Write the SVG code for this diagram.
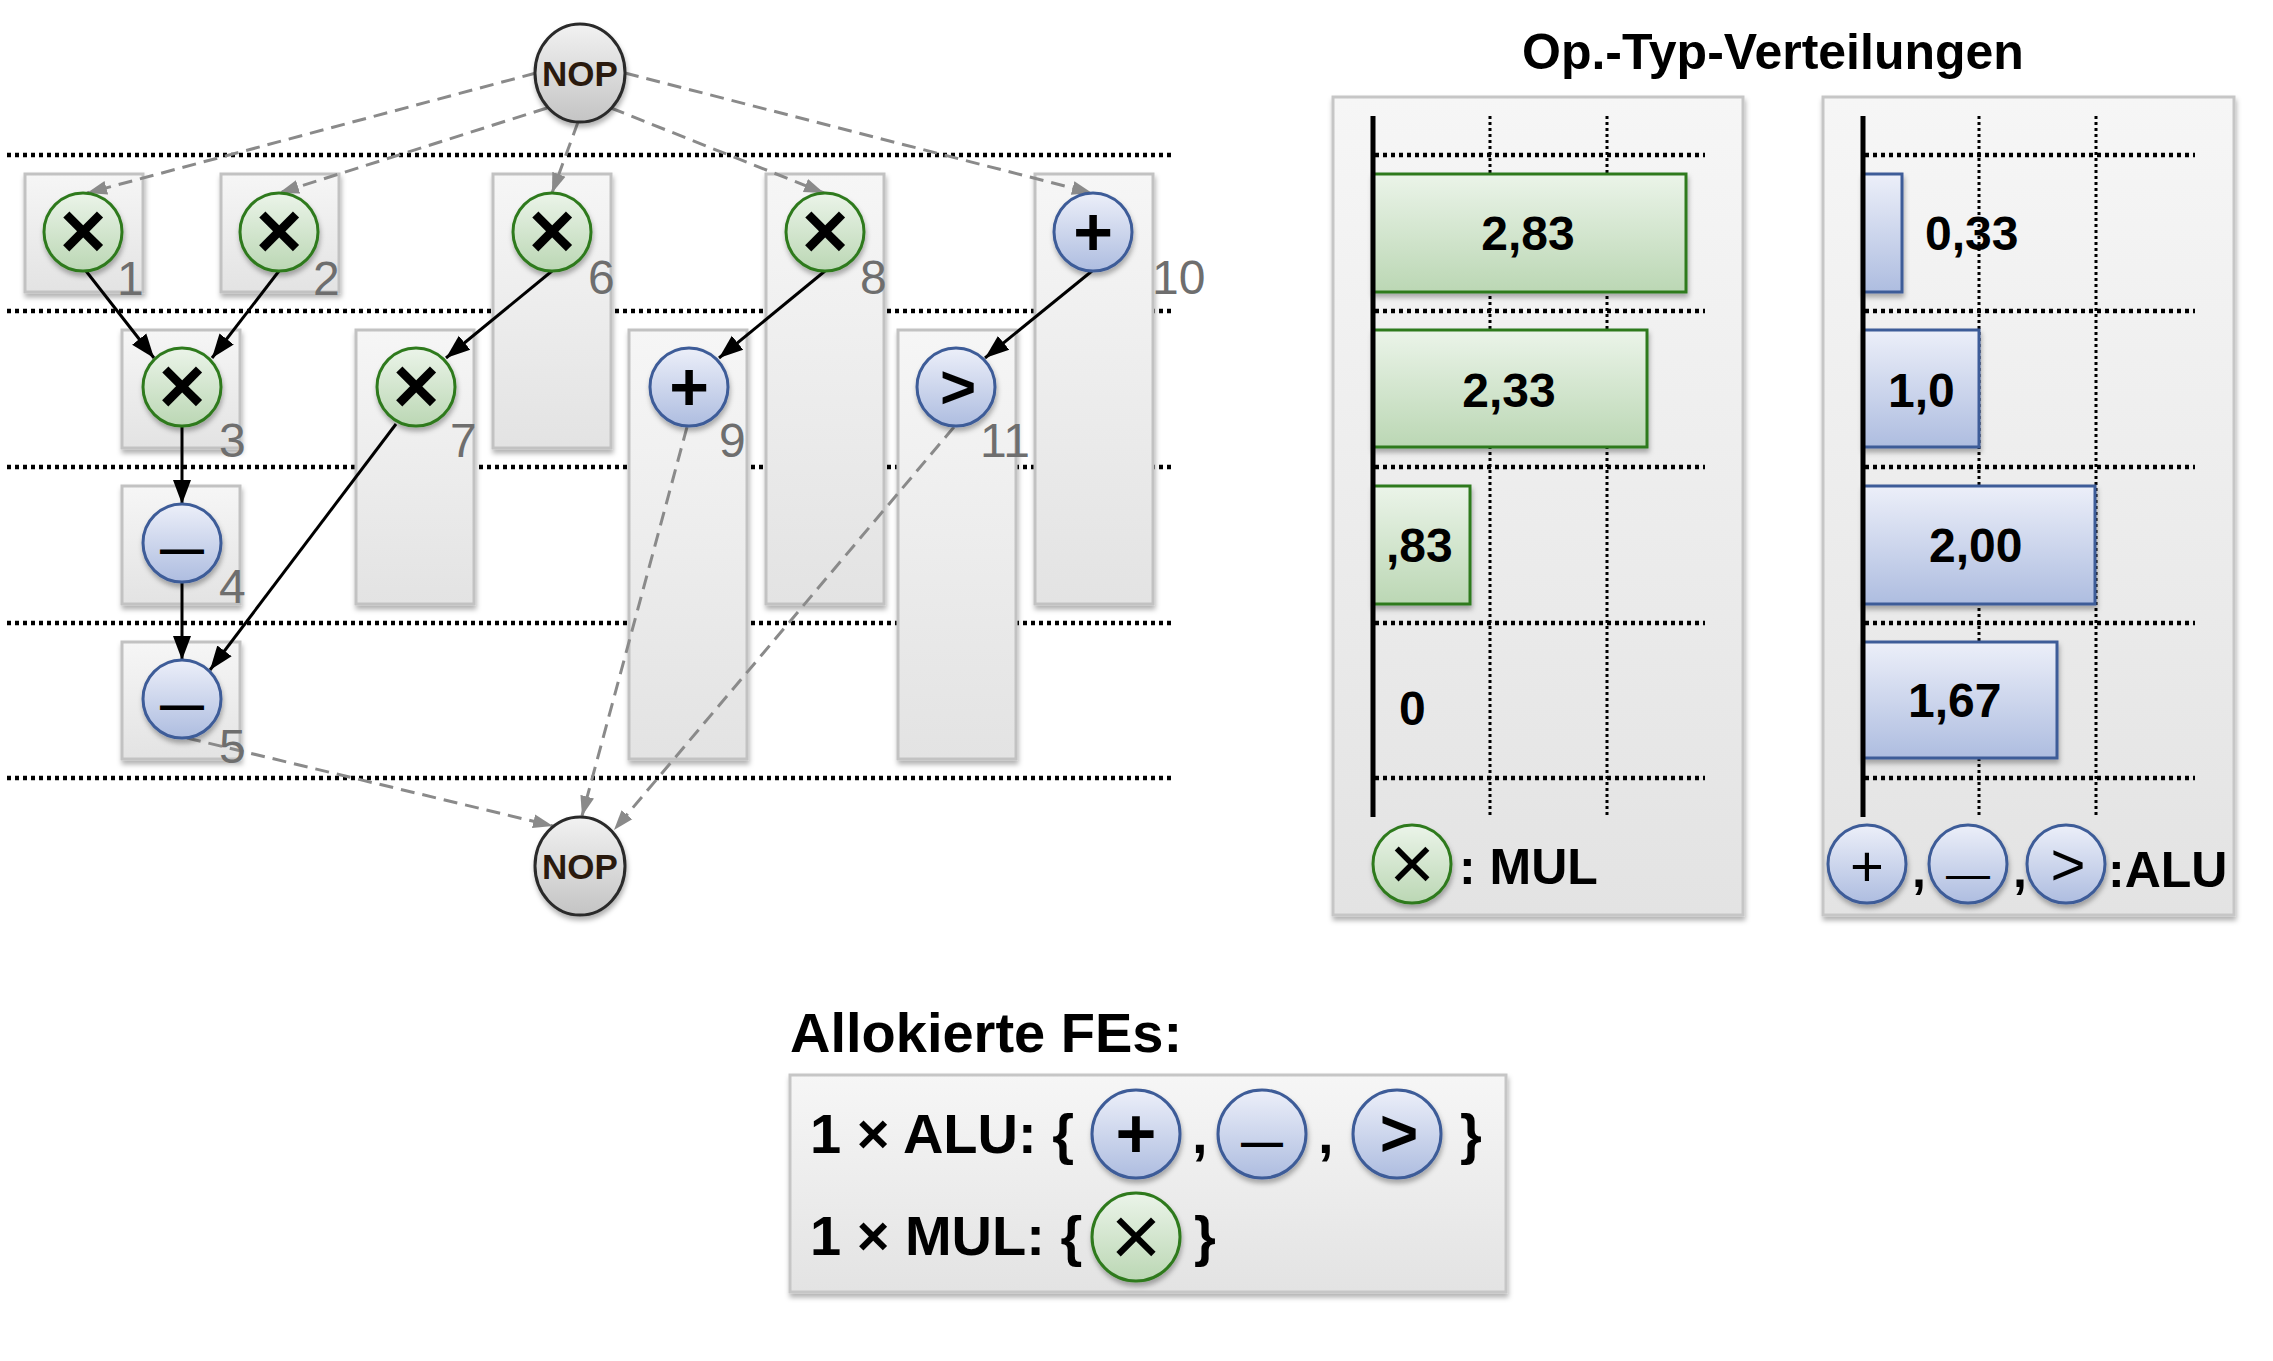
<svg xmlns="http://www.w3.org/2000/svg" width="2273" height="1361" viewBox="0 0 2273 1361">
<defs>
  <linearGradient id="gCol" x1="0" y1="0" x2="0" y2="1"><stop offset="0" stop-color="#f6f6f6"/><stop offset="1" stop-color="#e3e3e3"/></linearGradient>
  <linearGradient id="gGreen" x1="0" y1="0" x2="0" y2="1"><stop offset="0" stop-color="#ebf4e9"/><stop offset="1" stop-color="#bbd7b4"/></linearGradient>
  <linearGradient id="gBlue" x1="0" y1="0" x2="0" y2="1"><stop offset="0" stop-color="#eceff9"/><stop offset="1" stop-color="#aebde0"/></linearGradient>
  <linearGradient id="gNop" x1="0" y1="0" x2="0" y2="1"><stop offset="0" stop-color="#f2f2f2"/><stop offset="1" stop-color="#c4c4c4"/></linearGradient>
  <filter id="sh" x="-20%" y="-20%" width="140%" height="140%"><feDropShadow dx="1" dy="4" stdDeviation="2.5" flood-color="#000" flood-opacity="0.3"/></filter>
  <marker id="ah" markerUnits="userSpaceOnUse" markerWidth="26" markerHeight="20" refX="24" refY="10" orient="auto"><path d="M0,1 L24,10 L0,19 z" fill="#000"/></marker>
  <marker id="ahg" markerUnits="userSpaceOnUse" markerWidth="22" markerHeight="16" refX="20" refY="8" orient="auto"><path d="M0,1 L20,8 L0,15 z" fill="#8a8a8a"/></marker>
</defs>
<style>
  .dot { stroke:#000; stroke-width:4.5; stroke-dasharray:4 4; fill:none; }
  .vdot { stroke:#000; stroke-width:3; stroke-dasharray:3 3; fill:none; }
  .col { fill:url(#gCol); stroke:#c2c2c2; stroke-width:3; filter:url(#sh); }
  .panel { fill:url(#gCol); stroke:#c6c6c6; stroke-width:3; filter:url(#sh); }
  .mul { fill:url(#gGreen); stroke:#2f7a1f; stroke-width:3; filter:url(#sh); }
  .alu { fill:url(#gBlue); stroke:#3d5b98; stroke-width:3; filter:url(#sh); }
  .nop { fill:url(#gNop); stroke:#2b2b2b; stroke-width:3; filter:url(#sh); }
  .bar-mul { fill:url(#gGreen); stroke:#2f7a1f; stroke-width:3; filter:url(#sh); }
  .bar-alu { fill:url(#gBlue); stroke:#3d5b98; stroke-width:3; filter:url(#sh); }
  .axis { stroke:#000; stroke-width:5; }
  .solid { stroke:#000; stroke-width:3; fill:none; marker-end:url(#ah); }
  .dash { stroke:#8a8a8a; stroke-width:3; stroke-dasharray:14 8; fill:none; marker-end:url(#ahg); }
  text { font-family:"Liberation Sans", Arial, sans-serif; }
  .sym { font-weight:bold; text-anchor:middle; fill:#000; }
  .symr { font-weight:normal; text-anchor:middle; fill:#000; }
  .num { font-size:48px; fill:#6e6e6e; }
  .nopt { font-size:35px; font-weight:bold; fill:#2a1a0e; text-anchor:middle; }
  .val { font-size:48px; font-weight:bold; fill:#000; }
  .big { font-size:50px; font-weight:bold; fill:#000; }
  .alloc { font-size:56px; font-weight:bold; fill:#000; }
</style>
<rect width="2273" height="1361" fill="#fff"/>

<g id="steps">
  <line class="dot" x1="7" y1="155" x2="1171" y2="155"/>
  <line class="dot" x1="7" y1="311" x2="1171" y2="311"/>
  <line class="dot" x1="7" y1="467" x2="1171" y2="467"/>
  <line class="dot" x1="7" y1="623" x2="1171" y2="623"/>
  <line class="dot" x1="7" y1="778" x2="1171" y2="778"/>
</g>

<g id="mobility-ranges">
  <rect class="col" x="25" y="174" width="118" height="118"/>
  <rect class="col" x="221" y="174" width="118" height="118"/>
  <rect class="col" x="493" y="174" width="118" height="274"/>
  <rect class="col" x="766" y="174" width="118" height="430"/>
  <rect class="col" x="1035" y="174" width="118" height="430"/>
  <rect class="col" x="122" y="330" width="118" height="118"/>
  <rect class="col" x="356" y="330" width="118" height="274"/>
  <rect class="col" x="629" y="330" width="118" height="429"/>
  <rect class="col" x="898" y="330" width="118" height="429"/>
  <rect class="col" x="122" y="486" width="118" height="118"/>
  <rect class="col" x="122" y="642" width="118" height="117"/>
</g>

<g id="connectors">
  <line class="dash" x1="536" y1="73" x2="87" y2="193"/>
  <line class="dash" x1="547" y1="108" x2="279" y2="193"/>
  <line class="dash" x1="578" y1="122" x2="552" y2="193"/>
  <line class="dash" x1="611" y1="108" x2="824" y2="193"/>
  <line class="dash" x1="625" y1="73" x2="1092" y2="193"/>
  <line class="dash" x1="187" y1="738" x2="553" y2="826"/>
  <line class="dash" x1="687" y1="427" x2="582" y2="816"/>
  <line class="dash" x1="954" y1="427" x2="614" y2="830"/>
  <line class="solid" x1="86" y1="271" x2="154" y2="358"/>
  <line class="solid" x1="279" y1="271" x2="212" y2="358"/>
  <line class="solid" x1="552" y1="271" x2="446" y2="358"/>
  <line class="solid" x1="182" y1="426" x2="182" y2="504"/>
  <line class="solid" x1="182" y1="582" x2="182" y2="660"/>
  <line class="solid" x1="396" y1="424" x2="210" y2="670"/>
  <line class="solid" x1="825" y1="271" x2="719" y2="358"/>
  <line class="solid" x1="1092" y1="271" x2="985" y2="358"/>
</g>

<g id="nop-start"><ellipse class="nop" cx="580" cy="73" rx="45" ry="49"/><text class="nopt" x="580" y="86">NOP</text></g>
<g id="nop-end"><ellipse class="nop" cx="580" cy="866" rx="45" ry="49"/><text class="nopt" x="580" y="879">NOP</text></g>

<g id="node-1"><circle class="mul" cx="83" cy="232" r="39"/><text class="sym" x="83" y="258" font-size="80">×</text><text class="num" x="117" y="295">1</text></g>
<g id="node-2"><circle class="mul" cx="279" cy="232" r="39"/><text class="sym" x="279" y="258" font-size="80">×</text><text class="num" x="313" y="295">2</text></g>
<g id="node-6"><circle class="mul" cx="552" cy="232" r="39"/><text class="sym" x="552" y="258" font-size="80">×</text><text class="num" x="588" y="294">6</text></g>
<g id="node-8"><circle class="mul" cx="825" cy="232" r="39"/><text class="sym" x="825" y="258" font-size="80">×</text><text class="num" x="860" y="294">8</text></g>
<g id="node-10"><circle class="alu" cx="1093" cy="232" r="39"/><text class="sym" x="1093" y="255" font-size="68">+</text><text class="num" x="1152" y="294">10</text></g>
<g id="node-3"><circle class="mul" cx="182" cy="387" r="39"/><text class="sym" x="182" y="413" font-size="80">×</text><text class="num" x="219" y="457">3</text></g>
<g id="node-7"><circle class="mul" cx="416" cy="387" r="39"/><text class="sym" x="416" y="413" font-size="80">×</text><text class="num" x="450" y="457">7</text></g>
<g id="node-9"><circle class="alu" cx="689" cy="387" r="39"/><text class="sym" x="689" y="410" font-size="68">+</text><text class="num" x="719" y="457">9</text></g>
<g id="node-11"><circle class="alu" cx="956" cy="387" r="39"/><text class="sym" x="958" y="408" font-size="62">&gt;</text><text class="num" x="980" y="457">11</text></g>
<g id="node-4"><circle class="alu" cx="182" cy="543" r="39"/><text class="sym" x="182" y="564" font-size="44">—</text><text class="num" x="219" y="603">4</text></g>
<g id="node-5"><circle class="alu" cx="182" cy="699" r="39"/><text class="sym" x="182" y="720" font-size="44">—</text><text class="num" x="219" y="763">5</text></g>

<g id="chart-title"><text class="big" x="1522" y="69">Op.-Typ-Verteilungen</text></g>

<g id="chart-mul">
  <rect class="panel" x="1333" y="97" width="410" height="818"/>
  <line class="vdot" x1="1490" y1="116" x2="1490" y2="817"/>
  <line class="vdot" x1="1607" y1="116" x2="1607" y2="817"/>
  <line class="dot" x1="1375" y1="155" x2="1705" y2="155"/>
  <line class="dot" x1="1375" y1="311" x2="1705" y2="311"/>
  <line class="dot" x1="1375" y1="467" x2="1705" y2="467"/>
  <line class="dot" x1="1375" y1="623" x2="1705" y2="623"/>
  <line class="dot" x1="1375" y1="778" x2="1705" y2="778"/>
  <rect class="bar-mul" x="1373" y="174" width="313" height="118"/>
  <rect class="bar-mul" x="1373" y="330" width="274" height="117"/>
  <rect class="bar-mul" x="1373" y="486" width="97" height="118"/>
  <line class="axis" x1="1373" y1="116" x2="1373" y2="817"/>
  <text class="val" x="1528" y="250" text-anchor="middle">2,83</text>
  <text class="val" x="1509" y="407" text-anchor="middle">2,33</text>
  <text class="val" x="1386" y="562">,83</text>
  <text class="val" x="1399" y="725">0</text>
  <circle class="mul" cx="1412" cy="864" r="39"/>
  <text class="symr" x="1412" y="890" font-size="78">×</text>
  <text class="big" x="1459" y="884">: MUL</text>
</g>

<g id="chart-alu">
  <rect class="panel" x="1823" y="97" width="411" height="818"/>
  <line class="vdot" x1="1979" y1="116" x2="1979" y2="817"/>
  <line class="vdot" x1="2096" y1="116" x2="2096" y2="817"/>
  <line class="dot" x1="1865" y1="155" x2="2195" y2="155"/>
  <line class="dot" x1="1865" y1="311" x2="2195" y2="311"/>
  <line class="dot" x1="1865" y1="467" x2="2195" y2="467"/>
  <line class="dot" x1="1865" y1="623" x2="2195" y2="623"/>
  <line class="dot" x1="1865" y1="778" x2="2195" y2="778"/>
  <rect class="bar-alu" x="1863" y="174" width="39" height="118"/>
  <rect class="bar-alu" x="1863" y="330" width="116" height="117"/>
  <rect class="bar-alu" x="1863" y="486" width="232" height="118"/>
  <rect class="bar-alu" x="1863" y="642" width="194" height="116"/>
  <line class="axis" x1="1863" y1="116" x2="1863" y2="817"/>
  <text class="val" x="1925" y="250">0,33</text>
  <text class="val" x="1888" y="407">1,0</text>
  <text class="val" x="1929" y="562">2,00</text>
  <text class="val" x="1908" y="717">1,67</text>
  <circle class="alu" cx="1867" cy="864" r="39"/>
  <text class="symr" x="1867" y="886" font-size="58">+</text>
  <text class="big" x="1912" y="887">,</text>
  <circle class="alu" cx="1968" cy="864" r="39"/>
  <text class="symr" x="1968" y="889" font-size="44">—</text>
  <text class="big" x="2013" y="887">,</text>
  <circle class="alu" cx="2066" cy="864" r="39"/>
  <text class="symr" x="2068" y="885" font-size="60">&gt;</text>
  <text class="big" x="2108" y="887">:ALU</text>
</g>

<g id="allocation">
  <text class="alloc" x="790" y="1052">Allokierte FEs:</text>
  <rect class="panel" x="790" y="1075" width="716" height="217"/>
  <text class="alloc" x="810" y="1153">1 × ALU: {</text>
  <circle class="alu" cx="1136" cy="1134" r="44"/>
  <text class="sym" x="1136" y="1158" font-size="70">+</text>
  <text class="alloc" x="1192" y="1153">,</text>
  <circle class="alu" cx="1262" cy="1134" r="44"/>
  <text class="sym" x="1262" y="1156" font-size="42">—</text>
  <text class="alloc" x="1318" y="1153">,</text>
  <circle class="alu" cx="1397" cy="1134" r="44"/>
  <text class="sym" x="1399" y="1156" font-size="66">&gt;</text>
  <text class="alloc" x="1460" y="1153">}</text>
  <text class="alloc" x="810" y="1255">1 × MUL: {</text>
  <circle class="mul" cx="1136" cy="1237" r="44"/>
  <text class="symr" x="1136" y="1266" font-size="88">×</text>
  <text class="alloc" x="1194" y="1255">}</text>
</g>
</svg>
